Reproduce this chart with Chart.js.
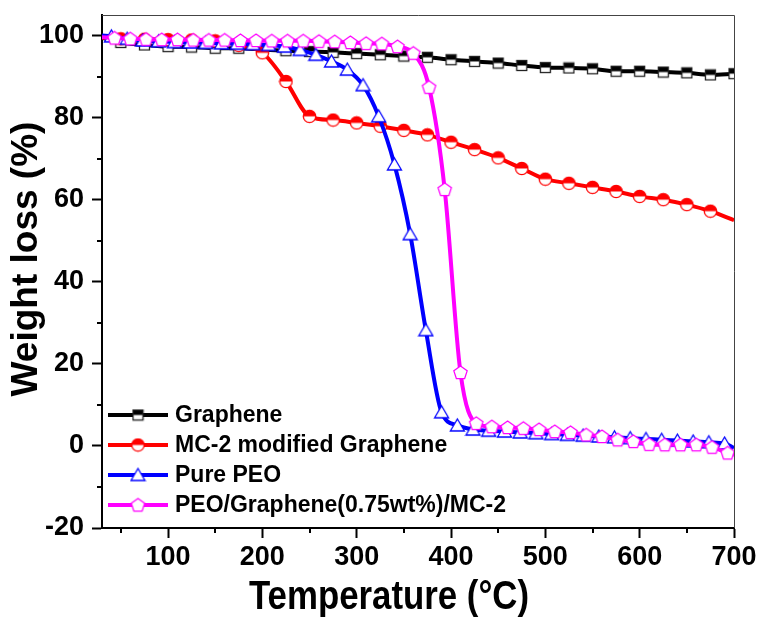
<!DOCTYPE html>
<html>
<head>
<meta charset="utf-8">
<script src="https://cdn.jsdelivr.net/npm/chart.js@4.4.0/dist/chart.umd.min.js"></script>
<style>
  html, body { margin: 0; padding: 0; background: #fff; }
  #wrap { width: 762px; height: 619px; }
</style>
</head>
<body>
<div id="wrap"><canvas id="tgaChart" width="762" height="619"></canvas></div>
<script>
// temperature (°C) and remaining weight (%)
const seriesNames = ['Graphene', 'MC-2 modified Graphene', 'Pure PEO', 'PEO/Graphene(0.75wt%)/MC-2'];

const graphTemps = [30, 50, 75, 100, 125, 150, 175, 200, 225, 250, 275, 300, 325, 350, 375,
  400, 425, 450, 475, 500, 525, 550, 575, 600, 625, 650, 675, 700];
const graphValues = [99.5, 98.3, 97.7, 97.3, 97.2, 96.9, 96.9, 96.6, 96.3, 96.1, 95.9, 95.6, 95.3, 95.0, 94.7,
  94.1, 93.7, 93.3, 92.7, 92.2, 92.1, 91.9, 91.3, 91.3, 91.1, 90.9, 90.4, 90.7];

const mcTemps = [30, 50, 75, 100, 125, 150, 175, 200, 225, 250, 275, 300, 325, 350, 375,
  400, 425, 450, 475, 500, 525, 550, 575, 600, 625, 650, 675, 700];
const mcValues = [99.5, 99.2, 99.1, 99.0, 98.9, 98.7, 97.6, 95.8, 88.8, 80.3, 79.4, 78.7, 77.9, 76.9, 75.8,
  74.0, 72.2, 70.2, 67.6, 65.0, 64.0, 63.0, 62.0, 60.8, 60.0, 58.8, 57.2, 55.0];

const peoTemps = [30, 40, 56.7, 73.3, 90, 106.7, 123.3, 140, 156.7, 173.3, 190, 206.7, 223.3, 240, 256.7,
  273.3, 290, 306.7, 323.3, 340, 356.7, 373.3, 390, 406.7, 423.3, 440, 456.7, 473.3, 490, 506.7,
  523.3, 540, 556.7, 573.3, 590, 606.7, 623.3, 640, 656.7, 673.3, 690, 700];
const peoValues = [100.0, 99.8, 99.2, 98.8, 98.6, 98.4, 98.3, 98.2, 98.1, 98.0, 97.9, 97.7, 97.3, 96.5, 95.3,
  93.7, 91.7, 87.9, 80.3, 68.6, 51.6, 28.2, 8.2, 5.0, 4.0, 3.7, 3.5, 3.3, 3.1, 2.9,
  2.7, 2.5, 2.3, 2.1, 1.9, 1.7, 1.5, 1.3, 1.1, 0.9, 0.6, -0.5];

const compTemps = [30, 43.3, 60, 76.7, 93.3, 110, 126.7, 143.3, 160, 176.7, 193.3, 210, 226.7, 243.3, 260,
  276.7, 293.3, 310, 326.7, 343.3, 360, 376.7, 393.3, 410, 426.7, 443.3, 460, 476.7, 493.3, 510,
  526.7, 543.3, 560, 576.7, 593.3, 610, 626.7, 643.3, 660, 676.7, 693.3, 700];
const compValues = [99.6, 99.4, 99.2, 99.1, 99.0, 99.0, 98.9, 98.9, 98.9, 98.8, 98.8, 98.7, 98.7, 98.7, 98.6,
  98.5, 98.3, 98.1, 98.0, 97.3, 95.7, 87.4, 62.5, 17.9, 5.5, 4.7, 4.5, 4.3, 4.0, 3.5,
  3.3, 2.7, 2.3, 1.5, 1.1, 0.4, 0.3, 0.3, 0.3, -0.3, -1.7, -2.2];

const xTickLabels = [100, 200, 300, 400, 500, 600, 700];
const xMinorTicks = [50, 150, 250, 350, 450, 550, 650];
const yTickLabels = [-20, 0, 20, 40, 60, 80, 100];
const yMinorTicks = [-10, 10, 30, 50, 70, 90];

// marker images (half filled square / circle, open triangle / pentagon)
function markerCanvas(size, draw) {
  const c = document.createElement('canvas');
  c.width = size;
  c.height = size;
  draw(c.getContext('2d'), size / 2);
  return c;
}

const squareMark = markerCanvas(13, (g, m) => {
  g.fillStyle = '#fff';
  g.fillRect(m - 5, m - 5, 10, 10);
  g.fillStyle = '#000';
  g.fillRect(m - 5, m - 5, 10, 5);
  g.strokeStyle = '#222';
  g.lineWidth = 1.3;
  g.strokeRect(m - 5, m - 5, 10, 10);
});

const circleMark = markerCanvas(15, (g, m) => {
  const r = 6.2;
  g.fillStyle = '#fff';
  g.beginPath(); g.arc(m, m, r, 0, Math.PI * 2); g.fill();
  g.fillStyle = '#ff0000';
  g.beginPath(); g.arc(m, m, r, Math.PI, Math.PI * 2); g.closePath(); g.fill();
  g.strokeStyle = '#ff0000';
  g.lineWidth = 1.3;
  g.beginPath(); g.arc(m, m, r, 0, Math.PI * 2); g.stroke();
});

const triangleMark = markerCanvas(17, (g, m) => {
  g.beginPath();
  g.moveTo(m, m - 6.5);
  g.lineTo(m + 7, m + 5.5);
  g.lineTo(m - 7, m + 5.5);
  g.closePath();
  g.fillStyle = '#fff';
  g.fill();
  g.strokeStyle = '#0000ff';
  g.lineWidth = 1.3;
  g.stroke();
});

const pentagonMark = markerCanvas(17, (g, m) => {
  const r = 7;
  g.beginPath();
  for (let k = 0; k < 5; k++) {
    const a = -Math.PI / 2 + k * 2 * Math.PI / 5;
    const px = m + r * Math.cos(a), py = m + 0.5 + r * Math.sin(a);
    if (k === 0) g.moveTo(px, py); else g.lineTo(px, py);
  }
  g.closePath();
  g.fillStyle = '#fff';
  g.fill();
  g.strokeStyle = '#ff00ff';
  g.lineWidth = 1.3;
  g.stroke();
});

function toPoints(xs, ys) {
  return xs.map((x, i) => ({ x: x, y: ys[i] }));
}

// markers are skipped at the plot edges where the trace just runs out
function markerRadius(hideEnd) {
  return ctx => {
    const i = ctx.dataIndex;
    const n = ctx.dataset.data.length;
    if (i === 0) return 0;
    if (hideEnd && i === n - 1) return 0;
    return 5;
  };
}

const lineColors = ['#000000', '#ff0000', '#0000ff', '#ff00ff'];
const markers = [squareMark, circleMark, triangleMark, pentagonMark];

const frameAndLegend = {
  id: 'frameAndLegend',
  afterDraw(chart) {
    const ctx = chart.ctx;
    const a = chart.chartArea;
    const xs = chart.scales.x, ys = chart.scales.y;
    ctx.save();

    // thin top / right frame
    ctx.strokeStyle = '#444';
    ctx.lineWidth = 1;
    ctx.beginPath();
    ctx.moveTo(a.left, a.top + 0.5);
    ctx.lineTo(a.right + 0.5, a.top + 0.5);
    ctx.lineTo(a.right + 0.5, a.bottom);
    ctx.stroke();

    // minor ticks
    ctx.strokeStyle = '#000';
    ctx.lineWidth = 2;
    ctx.beginPath();
    xMinorTicks.forEach(v => {
      const px = Math.round(xs.getPixelForValue(v));
      ctx.moveTo(px, a.bottom);
      ctx.lineTo(px, a.bottom + 5);
    });
    yMinorTicks.forEach(v => {
      const py = Math.round(ys.getPixelForValue(v));
      ctx.moveTo(a.left, py);
      ctx.lineTo(a.left - 5, py);
    });
    ctx.stroke();

    // legend, bottom-left inside the plot
    ctx.font = 'bold 23px "Liberation Sans", Arial, sans-serif';
    ctx.textBaseline = 'middle';
    ctx.textAlign = 'left';
    chart.data.datasets.forEach((ds, i) => {
      const y = 415 + i * 30;
      ctx.strokeStyle = ds.borderColor;
      ctx.lineWidth = 4;
      ctx.beginPath();
      ctx.moveTo(108, y);
      ctx.lineTo(168, y);
      ctx.stroke();
      const m = ds.pointStyle;
      ctx.drawImage(m, 138 - m.width / 2, y - m.height / 2);
      ctx.fillStyle = '#000';
      ctx.fillText(ds.label, 175, y + 1);
    });

    // axis titles (the x title is a condensed face in the original)
    ctx.fillStyle = '#000';
    ctx.textAlign = 'center';
    ctx.save();
    ctx.translate(389, 598);
    ctx.scale(0.87, 1);
    ctx.font = 'bold 40px "Liberation Sans", Arial, sans-serif';
    ctx.fillText('Temperature (°C)', 0, 0);
    ctx.restore();
    ctx.translate(27, 259);
    ctx.rotate(-Math.PI / 2);
    ctx.font = 'bold 37px "Liberation Sans", Arial, sans-serif';
    ctx.fillText('Weight loss (%)', 0, 0);
    ctx.restore();
  }
};

const datasets = [
  [graphTemps, graphValues, false],
  [mcTemps, mcValues, true],
  [peoTemps, peoValues, true],
  [compTemps, compValues, true]
].map((s, i) => ({
  label: seriesNames[i],
  data: toPoints(s[0], s[1]),
  borderColor: lineColors[i],
  backgroundColor: lineColors[i],
  borderWidth: 4,
  pointStyle: markers[i],
  pointRadius: markerRadius(s[2]),
  pointHoverRadius: 5,
  cubicInterpolationMode: 'monotone',
  order: 4 - i
}));

const tickFont = { family: '"Liberation Sans", Arial, sans-serif', size: 27, weight: 'bold' };

function fixBox(scale, size, vertical) {
  if (vertical) scale.width = size; else scale.height = size;
  scale.paddingTop = 0;
  scale.paddingBottom = 0;
  scale.paddingLeft = 0;
  scale.paddingRight = 0;
}

new Chart(document.getElementById('tgaChart').getContext('2d'), {
  type: 'line',
  data: { datasets: datasets },
  options: {
    responsive: false,
    animation: false,
    layout: { padding: { top: 15, right: 28, left: 0, bottom: 0 } },
    plugins: {
      legend: { display: false },
      tooltip: { enabled: false }
    },
    scales: {
      x: {
        type: 'linear',
        min: 30,
        max: 700,
        afterBuildTicks: axis => { axis.ticks = xTickLabels.map(v => ({ value: v })); },
        afterFit: scale => fixBox(scale, 91, false),
        border: { color: '#000', width: 2 },
        grid: { drawOnChartArea: false, tickLength: 10, tickWidth: 2, tickColor: '#000' },
        ticks: {
          autoSkip: false,
          maxRotation: 0,
          padding: 3,
          color: '#000',
          font: tickFont
        }
      },
      y: {
        min: -20,
        max: 105,
        afterBuildTicks: axis => { axis.ticks = yTickLabels.map(v => ({ value: v })); },
        afterFit: scale => fixBox(scale, 102, true),
        border: { color: '#000', width: 2 },
        grid: { drawOnChartArea: false, tickLength: 10, tickWidth: 2, tickColor: '#000' },
        ticks: {
          autoSkip: false,
          padding: 8,
          color: '#000',
          font: tickFont
        }
      }
    }
  },
  plugins: [frameAndLegend]
});
</script>
</body>
</html>
